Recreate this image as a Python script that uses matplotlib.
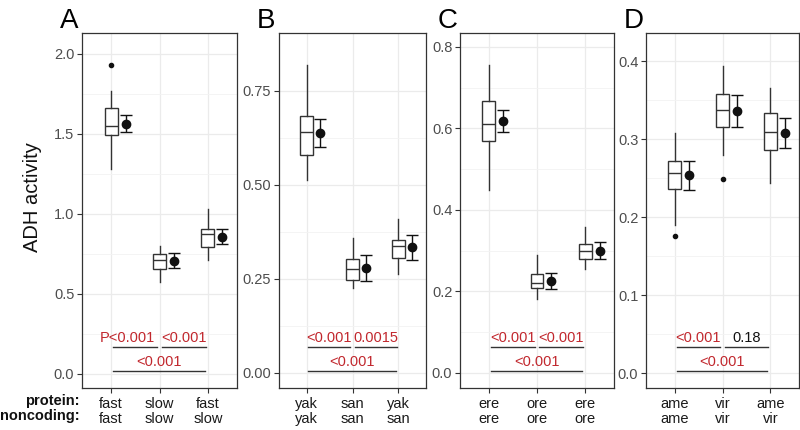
import numpy as np
import matplotlib.pyplot as plt
from matplotlib.ticker import FixedLocator

plt.rcParams['font.family'] = ['Liberation Sans', 'DejaVu Sans']

letters = ['A', 'B', 'C', 'D']
protein = [['fast', 'slow', 'fast'], ['yak', 'san', 'yak'],
           ['ere', 'ore', 'ere'], ['ame', 'vir', 'ame']]
noncoding = [['fast', 'slow', 'slow'], ['yak', 'san', 'san'],
             ['ere', 'ore', 'ore'], ['ame', 'vir', 'vir']]

# boxplot stats, one row per panel, one value per genotype
whislo = [[1.28, 0.575, 0.71], [0.513, 0.226, 0.262],
          [0.449, 0.181, 0.255], [0.19, 0.279, 0.244]]
q1 = [[1.49, 0.655, 0.79], [0.58, 0.247, 0.306],
      [0.569, 0.209, 0.28], [0.236, 0.315, 0.286]]
med = [[1.55, 0.71, 0.875], [0.64, 0.277, 0.337],
       [0.611, 0.221, 0.30], [0.256, 0.337, 0.309]]
q3 = [[1.66, 0.745, 0.906], [0.683, 0.303, 0.354],
      [0.667, 0.243, 0.317], [0.272, 0.358, 0.333]]
whishi = [[1.77, 0.80, 1.03], [0.819, 0.358, 0.41],
          [0.756, 0.290, 0.358], [0.308, 0.394, 0.365]]
outliers = [[[1.93], [], []], [[], [], []],
            [[], [], []], [[0.176], [0.249], []]]

# mean with error bar
means = [[1.56, 0.705, 0.856], [0.638, 0.278, 0.334],
         [0.618, 0.226, 0.30], [0.254, 0.336, 0.308]]
err_lo = [[1.51, 0.66, 0.81], [0.60, 0.244, 0.30],
          [0.591, 0.206, 0.28], [0.235, 0.315, 0.288]]
err_hi = [[1.62, 0.755, 0.906], [0.675, 0.313, 0.367],
          [0.645, 0.245, 0.321], [0.272, 0.356, 0.327]]

# p values: (1 vs 2), (2 vs 3), (1 vs 3)
pvals = [['P<0.001', '<0.001', '<0.001'], ['<0.001', '0.0015', '<0.001'],
         ['<0.001', '<0.001', '<0.001'], ['<0.001', '0.18', '<0.001']]
signif = [[True, True, True], [True, True, True],
          [True, True, True], [True, False, True]]

ylims = [(-0.09, 2.13), (-0.04, 0.904), (-0.037, 0.834), (-0.019, 0.436)]
ymajor = [[0, 0.5, 1.0, 1.5, 2.0], [0, 0.25, 0.5, 0.75],
          [0, 0.2, 0.4, 0.6, 0.8], [0, 0.1, 0.2, 0.3, 0.4]]
yfmt = ['%.1f', '%.2f', '%.1f', '%.1f']

# panel positions in pixels (left, right)
px = [(82, 237), (279, 426), (460, 614), (646, 799)]
W, H = 800, 430
top, bot = 33, 388

red = '#c1272d'
dark = '#333333'
fs = 10.5

fig = plt.figure(figsize=(8, 4.3), dpi=100)

for i in range(4):
    l, r = px[i]
    ax = fig.add_axes([l / W, (H - bot) / H, (r - l) / W, (bot - top) / H])
    ax.set_xlim(0.4, 3.6)
    ax.set_ylim(*ylims[i])
    x = np.arange(1, 4)

    stats = []
    for j in range(3):
        stats.append(dict(med=med[i][j], q1=q1[i][j], q3=q3[i][j],
                          whislo=whislo[i][j], whishi=whishi[i][j],
                          fliers=outliers[i][j]))
    ax.bxp(stats, positions=x, widths=0.27, patch_artist=True, showcaps=False,
           boxprops=dict(facecolor='white', edgecolor=dark, linewidth=1),
           medianprops=dict(color=dark, linewidth=1),
           whiskerprops=dict(color=dark, linewidth=1),
           flierprops=dict(marker='o', markersize=3, markerfacecolor='#111111',
                           markeredgecolor='#111111'),
           manage_ticks=False, zorder=3)

    m = np.array(means[i])
    yerr = [m - np.array(err_lo[i]), np.array(err_hi[i]) - m]
    ax.errorbar(x + 0.3, m, yerr=yerr, fmt='o', color='#111111', markersize=6,
                capsize=4, elinewidth=1, capthick=1, zorder=4)

    # comparison lines
    yr = ylims[i][1] - ylims[i][0]
    y_up = ylims[i][0] + (bot - 347) / (bot - top) * yr
    y_lo = ylims[i][0] + (bot - 371) / (bot - top) * yr
    segs = [(1.04, 1.95, y_up), (2.05, 2.96, y_up), (1.04, 2.94, y_lo)]
    for k, (x0, x1, yy) in enumerate(segs):
        ax.plot([x0, x1], [yy, yy], color=dark, linewidth=1, zorder=2)
        xm = (x0 + x1) / 2
        if pvals[i][k].startswith('P'):
            xm -= 0.16
        ax.annotate(pvals[i][k], (xm, yy), xytext=(0, 1.5), textcoords='offset points',
                    ha='center', va='bottom', fontsize=fs,
                    color=red if signif[i][k] else '#111111', zorder=5)

    ax.yaxis.set_major_locator(FixedLocator(ymajor[i]))
    ax.set_yticklabels([yfmt[i] % v for v in ymajor[i]])
    mids = [(a + b) / 2 for a, b in zip(ymajor[i][:-1], ymajor[i][1:])]
    ax.yaxis.set_minor_locator(FixedLocator(mids))
    ax.set_xticks(x)
    ax.set_xticklabels([p + '\n' + n for p, n in zip(protein[i], noncoding[i])],
                       linespacing=1.1)

    ax.grid(True, which='major', color='#ebebeb', linewidth=0.9, zorder=0)
    ax.grid(True, which='minor', axis='y', color='#f3f3f3', linewidth=0.6, zorder=0)
    ax.set_axisbelow(True)
    ax.tick_params(which='major', length=3.5, width=0.8, color=dark, pad=2,
                   labelsize=fs)
    ax.tick_params(axis='y', labelcolor='#4d4d4d')
    ax.tick_params(axis='x', labelcolor='#1a1a1a', pad=3)
    ax.tick_params(which='minor', length=0)
    for s in ax.spines.values():
        s.set_color(dark)
        s.set_linewidth(0.9)

    fig.text((l - 22) / W, (H - 28) / H, letters[i], fontsize=20,
             ha='left', va='baseline')

fig.text(80 / W, (H - 394) / H, 'protein:\nnoncoding:', ha='right', va='top',
         ma='right', fontsize=fs, fontweight='bold', color='#111111',
         linespacing=1.1)
fig.text(33 / W, (H - 197) / H, 'ADH activity', rotation=90, ha='center',
         va='center', fontsize=14.5, color='#111111')

fig.savefig('out.png', dpi=100)
